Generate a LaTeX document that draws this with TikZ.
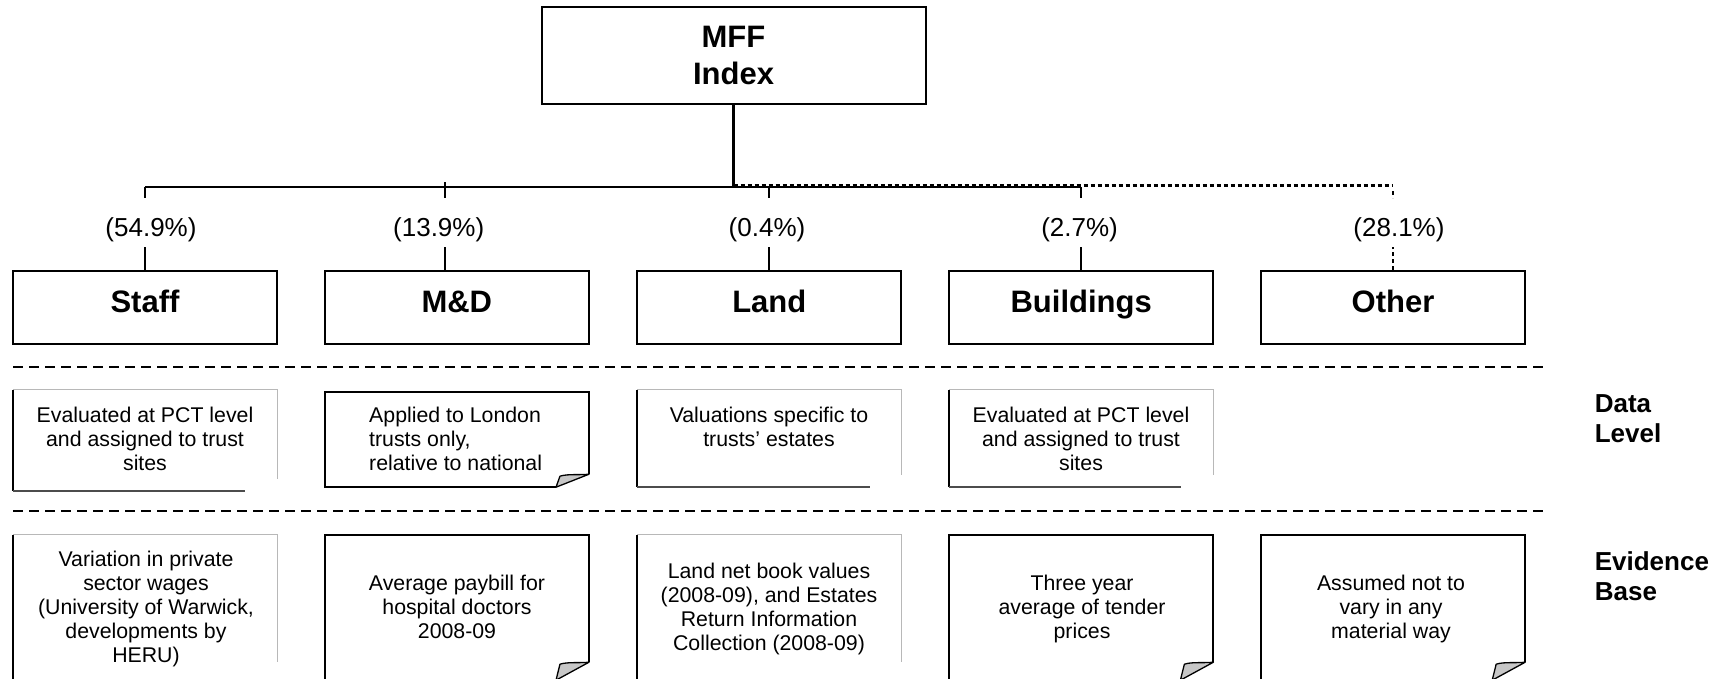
\documentclass[tikz,border=0pt]{standalone}
\usepackage{fontspec}
\setmainfont{Liberation Sans}
\usetikzlibrary{calc}
\newcommand\foldbox[3]{%
  \draw[boxline] ($(#1.south east)+(0,-#3)$) -- (#1.north east) -- (#1.north west) -- (#1.south west) -- ($(#1.south east)+(-#2,0)$);
  \filldraw[fold] ($(#1.south east)+(0,-#3)$) .. controls ($(#1.south east)+(-0.3*#2,-#3+1)$) and ($(#1.south east)+(-0.65*#2,-#3-0.5)$) .. ($(#1.south east)+(-0.88*#2,-#3+2)$) -- ($(#1.south east)+(-#2,0)$) -- cycle;}
\newcommand\sheetbox[3]{%
  \draw[sheetlight] (#1.north west) -- (#1.north east) -- ($(#1.south east)+(0,-#3)$);
  \draw[sheetdark] (#1.north west) -- (#1.south west);
  \draw[sheetbottom] (#1.south west) -- ($(#1.south east)+(-#2,0)$);}
\begin{document}
\begin{tikzpicture}[x=1pt,y=-1pt,
  boxline/.style={draw=black,line width=2pt,line join=miter},
  fold/.style={draw=black,fill=black!22,line width=1.3pt,line join=round},
  sheetlight/.style={draw=black!28,line width=0.9pt},
  sheetdark/.style={draw=black,line width=1.6pt},
  sheetbottom/.style={draw=black!70,line width=1.6pt},
  catbox/.style={draw=black,line width=2pt,minimum width=264pt,minimum height=73pt,inner sep=0pt,
    font=\fontsize{31}{34}\selectfont\bfseries,text height=20pt,text depth=10pt},
  topbox/.style={draw=black,line width=2pt,minimum width=384pt,minimum height=97pt,inner sep=0pt,
    font=\fontsize{31}{37}\selectfont\bfseries,align=center},
  area/.style={draw=none,minimum width=264pt,inner sep=0pt},
  pct/.style={anchor=base,inner sep=0pt,font=\fontsize{26}{30}\selectfont},
  body/.style={anchor=base,inner sep=0pt,align=center,font=\fontsize{21.3}{24.2}\selectfont},
  side/.style={anchor=base west,inner sep=0pt,align=left,font=\fontsize{26}{29.7}\selectfont\bfseries},
  conn/.style={draw=black,line width=2.2pt},
  connd/.style={draw=black,line width=2.2pt,dash pattern=on 4pt off 3pt},
  sep/.style={draw=black,line width=1.6pt,dash pattern=on 10pt off 6pt}]
\fill[white] (0,0) rectangle (1722,678);
\useasboundingbox (0,0) rectangle (1722,678);
\clip (0,0) rectangle (1722,678);

% top box
\node[topbox] (mff) at (733.5,55.5) {MFF\\Index};

% category boxes
\node[catbox] (staff) at (145,307.5) {Staff};
\node[catbox] (md) at (456.8,307.5) {M\&D};
\node[catbox] (land) at (769.3,307.5) {Land};
\node[catbox] (bld) at (1081.2,307.5) {Buildings};
\node[catbox] (oth) at (1393,307.5) {Other};

% percentages
\node[pct] (p1) at (151,236) {(54.9\%)};
\node[pct] (p2) at (438.7,236) {(13.9\%)};
\node[pct] (p3) at (767,236) {(0.4\%)};
\node[pct] (p4) at (1079.6,236) {(2.7\%)};
\node[pct] (p5) at (1399,236) {(28.1\%)};

% connectors
\coordinate (hub) at (733.5,187);
\coordinate (mdt) at (445,187);
\draw[conn] (mff.south) -- (hub);
\draw[conn] (staff.north |- hub) -- (bld.north |- hub);
\draw[connd] (hub) ++(0,-1.5) -- ($(oth.north |- hub)+(0,-1.5)$);
\draw[conn] (staff.north |- hub) -- ++(0,11);
\draw[conn] ($(mdt)+(0,-5)$) -- ++(0,16);
\draw[conn] (land.north |- hub) -- ++(0,11);
\draw[conn] (bld.north |- hub) -- ++(0,11);
\draw[connd] ($(oth.north |- hub)+(0,4)$) -- ++(0,7);
\draw[conn] (staff.north) -- ++(0,-23);
\draw[conn] (md.north -| mdt) -- ++(0,-23);
\draw[conn] (land.north) -- ++(0,-23);
\draw[conn] (bld.north) -- ++(0,-23);
\draw[connd] (oth.north) -- ++(0,-23);

% separators
\coordinate (s1a) at (13,367); \coordinate (s1b) at (1547,367);
\coordinate (s2a) at (13,511); \coordinate (s2b) at (1547,511);
\draw[sep] (s1a) -- (s1b);
\draw[sep] (s2a) -- (s2b);

% data level boxes
\node[area,minimum height=101pt] (sd) at (145,440.5) {};
\node[area,minimum height=95pt] (mdd) at (456.8,439.5) {};
\node[area,minimum height=97pt] (ld) at (769.3,438.5) {};
\node[area,minimum height=97pt] (bd) at (1081.2,438.5) {};
\sheetbox{sd}{32}{12}
\foldbox{mdd}{33}{13}
\sheetbox{ld}{32}{12}
\sheetbox{bd}{32}{12}

\node[body] (sdt) at (145,470.9) {Evaluated at PCT level\\and assigned to trust\\sites};
\node[body,align=left,anchor=base west] (mdt2) at (369,470.9) {Applied to London\\trusts only,\\relative to national};
\node[body] (ldt) at (769,446.7) {Valuations specific to\\trusts’ estates};
\node[body] (bdt) at (1081,470.9) {Evaluated at PCT level\\and assigned to trust\\sites};

% evidence boxes
\node[area,minimum height=145pt] (se) at (145,607.5) {};
\node[area,minimum height=145pt] (me) at (456.8,607.5) {};
\node[area,minimum height=145pt] (le) at (769.3,607.5) {};
\node[area,minimum height=145pt] (be) at (1081.2,607.5) {};
\node[area,minimum height=145pt] (oe) at (1393,607.5) {};
\sheetbox{se}{32}{18}
\foldbox{me}{33}{18}
\sheetbox{le}{32}{18}
\foldbox{be}{33}{18}
\foldbox{oe}{33}{18}

\node[body] (set) at (146,662.8) {Variation in private\\sector wages\\(University of Warwick,\\developments by\\HERU)};
\node[body] (met) at (457,638.4) {Average paybill for\\hospital doctors\\2008-09};
\node[body] (let) at (769,650.6) {Land net book values\\(2008-09), and Estates\\Return Information\\Collection (2008-09)};
\node[body] (bet) at (1082,638.4) {Three year\\average of tender\\prices};
\node[body] (oet) at (1391,638.4) {Assumed not to\\vary in any\\material way};

% side labels
\node[side] (dl) at (1594.6,442) {Data\\Level};
\node[side] (eb) at (1594.6,600) {Evidence\\Base};
\end{tikzpicture}
\end{document}
